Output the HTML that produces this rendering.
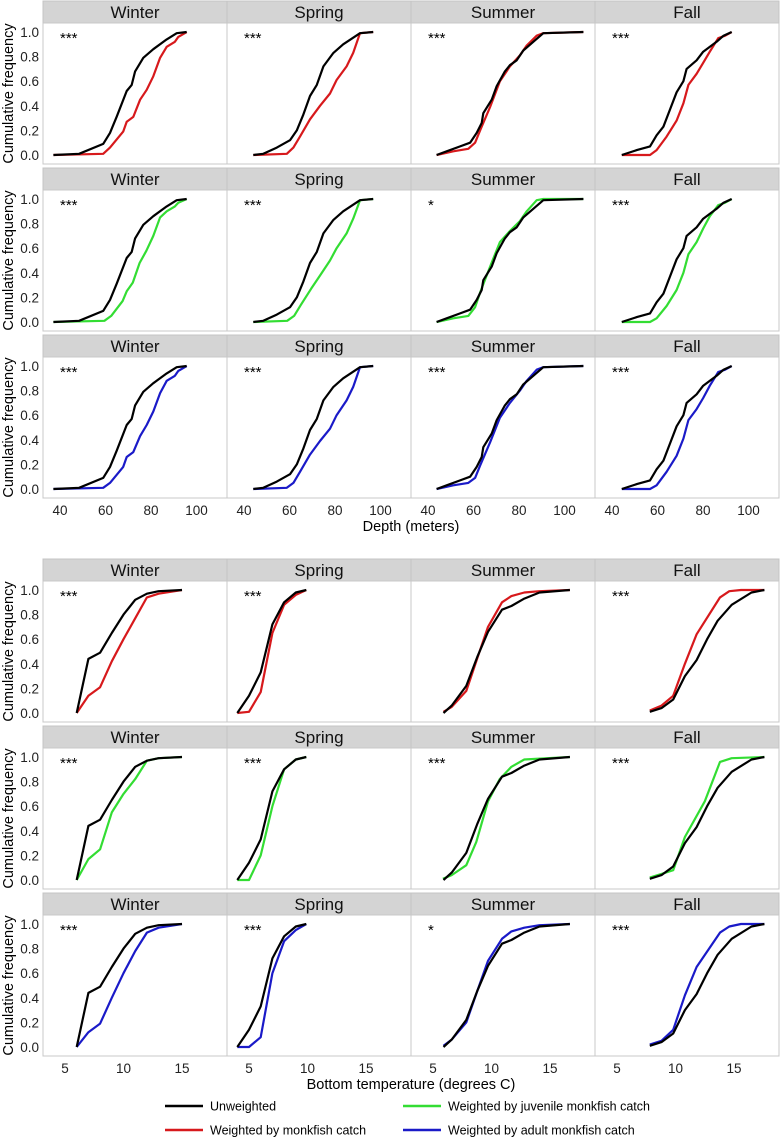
<!DOCTYPE html>
<html><head><meta charset="utf-8">
<style>
html,body{margin:0;padding:0;background:#fff;}
svg{display:block;font-family:"Liberation Sans",sans-serif;}
</style></head>
<body>
<svg id="chart" width="780" height="1137" viewBox="0 0 780 1137"></svg>
<script>
// ---------- data ----------
const seasons = ["Winter","Spring","Summer","Fall"];
const seriesNames = ["Unweighted","Weighted by monkfish catch","Weighted by juvenile monkfish catch","Weighted by adult monkfish catch"];
const seriesColors = ["#000000","#d7191c","#33dd33","#1a1ac8"];
const depthTicks = [40,60,80,100];
const tempTicks = [5,10,15];
const yTicks = [0.0,0.2,0.4,0.6,0.8,1.0];
const depthSig = [["***","***","***","***"],["***","***","*","***"],["***","***","***","***"]];
const tempSig = [["***","***","","***"],["***","***","***","***"],["***","***","*","***"]];

// depth: [x values, cumulative values] per season
const depthBlackX = [[37.1,48.4,59.0,62.0,64.9,69.3,71.5,73.0,76.6,81.0,86.9,91.3,95.7],[44.1,48.5,54.4,60.2,63.2,66.1,69.0,72.0,74.9,79.3,83.6,91.0,96.8],[43.8,48.2,54.1,58.5,61.4,63.6,64.3,68.0,70.2,73.8,76.0,79.0,81.9,86.3,90.7,108.3],[44.3,50.9,56.7,59.6,62.6,65.5,68.4,71.4,72.8,77.2,80.1,86.0,89.0,92.6]];
const depthBlackY = [[0,0.01,0.09,0.18,0.31,0.52,0.57,0.68,0.79,0.86,0.94,0.99,1],[0,0.01,0.06,0.12,0.20,0.33,0.48,0.57,0.72,0.83,0.90,0.99,1],[0,0.03,0.07,0.10,0.18,0.26,0.34,0.45,0.56,0.68,0.73,0.77,0.85,0.92,0.99,1],[0,0.04,0.07,0.16,0.23,0.37,0.51,0.60,0.70,0.77,0.84,0.92,0.97,1]];
const depthAllX = [[37.1,59.0,62.0,67.8,69.3,72.2,75.2,78.1,81.0,84.0,86.9,90.5,92.0,95.7],[44.1,58.8,61.7,64.6,69.0,73.4,77.8,80.7,85.1,88.0,91.0,96.8],[43.8,51.1,57.7,60.7,62.9,67.3,71.6,76.0,80.4,83.4,87.8,90.7,108.3],[44.3,56.7,59.6,64.0,68.4,71.4,73.6,77.2,80.1,83.0,86.7,89.7,92.6]];
const depthAllY = [[0,0.01,0.06,0.19,0.27,0.31,0.45,0.53,0.64,0.79,0.88,0.92,0.96,1],[0,0.01,0.06,0.15,0.29,0.40,0.50,0.61,0.72,0.83,0.99,1],[0,0.03,0.05,0.10,0.20,0.39,0.60,0.72,0.81,0.89,0.97,0.99,1],[0,0,0.04,0.15,0.28,0.42,0.57,0.66,0.75,0.84,0.95,0.97,1]];
const depthJuvX = [[37.1,59.5,62.5,67.5,69.3,72.0,75.0,78.0,81.0,84.0,86.9,90.5,92.0,95.7],[44.1,59.0,62.0,65.0,69.5,73.5,77.8,80.7,85.1,88.0,91.0,96.8],[43.8,51.1,57.7,60.7,62.9,67.3,71.6,76.0,80.4,83.4,87.8,90.7,108.3],[44.3,56.7,59.6,64.0,68.4,71.4,73.6,77.2,80.1,83.0,86.7,89.7,92.6]];
const depthJuvY = [[0,0.01,0.05,0.17,0.25,0.32,0.48,0.58,0.70,0.85,0.90,0.94,0.97,1],[0,0.01,0.05,0.14,0.27,0.38,0.50,0.60,0.72,0.84,0.99,1],[0,0.03,0.05,0.12,0.24,0.45,0.65,0.74,0.82,0.90,0.99,1,1],[0,0,0.03,0.13,0.26,0.40,0.55,0.65,0.76,0.86,0.95,0.97,1]];
const depthAduX = [[37.1,59.0,62.0,67.8,69.3,72.2,75.2,78.1,81.0,84.0,86.9,90.5,92.0,95.7],[44.1,58.8,61.7,64.6,69.0,73.4,77.8,80.7,85.1,88.0,91.0,96.8],[43.8,51.1,57.7,60.7,62.9,67.3,71.6,76.0,80.4,83.4,87.8,90.7,108.3],[44.3,56.7,59.6,64.0,68.4,71.4,73.6,77.2,80.1,83.0,86.7,89.7,92.6]];
const depthAduY = [[0,0.01,0.05,0.18,0.26,0.30,0.43,0.52,0.63,0.78,0.88,0.92,0.96,1],[0,0.01,0.05,0.14,0.28,0.39,0.49,0.60,0.72,0.83,0.99,1],[0,0.03,0.05,0.09,0.19,0.38,0.58,0.70,0.80,0.88,0.97,0.99,1],[0,0,0.03,0.14,0.27,0.41,0.56,0.65,0.74,0.84,0.95,0.97,1]];

// temperature
const tempBlackX = [[6,7,8,9,10,11,12,13,15],[4,5,6,7,8,9,9.9],[5.9,6.6,7.85,8.8,9.7,10.9,11.7,12.8,14.1,16.7],[7.8,8.8,9.8,10.8,11.8,12.7,13.6,14.8,16.5,17.6]];
const tempBlackY = [[0,0.44,0.49,0.65,0.80,0.92,0.97,0.99,1],[0,0.14,0.33,0.72,0.90,0.98,1],[0,0.06,0.22,0.46,0.66,0.84,0.87,0.93,0.98,1],[0.01,0.04,0.11,0.30,0.43,0.60,0.75,0.88,0.98,1]];
const tempAllX = [[6,7,8,9,10,11,12,13,15],[4,5,6,7,8,9,9.9],[5.9,6.6,7.85,8.8,9.7,10.9,11.7,12.8,14.1,16.7],[7.8,8.8,9.8,10.8,11.8,13.8,14.6,15.6,17.6]];
const tempAllY = [[0,0.14,0.21,0.42,0.60,0.77,0.94,0.97,1],[0,0.01,0.17,0.65,0.88,0.96,1],[0.01,0.05,0.18,0.45,0.70,0.90,0.95,0.98,0.99,1],[0.02,0.06,0.14,0.40,0.64,0.94,0.99,1,1]];
const tempJuvX = [[6,7,8,9,10,11,12,13,15],[4,5,6,7,8,9,9.9],[5.85,6.6,7.85,8.7,9.7,10.7,11.7,12.8,16.7],[7.8,8.8,9.8,10.8,12.5,13.8,14.8,17.6]];
const tempJuvY = [[0,0.17,0.25,0.55,0.70,0.82,0.97,0.99,1],[0,0,0.20,0.60,0.90,0.98,1],[0.01,0.04,0.12,0.31,0.64,0.82,0.92,0.98,1],[0.02,0.05,0.08,0.35,0.64,0.96,0.99,1]];
const tempAduX = [[6,7,8,9,10,11,12,13,15],[4,5,6,7,8,9,9.9],[5.9,6.6,7.85,8.8,9.7,10.9,11.7,12.8,14.1,16.7],[7.8,8.8,9.8,10.8,11.8,13.8,14.6,15.6,17.6]];
const tempAduY = [[0,0.12,0.19,0.40,0.60,0.78,0.93,0.97,1],[0,0,0.08,0.60,0.86,0.95,1],[0.01,0.06,0.2,0.46,0.70,0.88,0.94,0.97,0.99,1],[0.02,0.05,0.14,0.42,0.65,0.93,0.98,1,1]];

// ---------- drawing ----------
const NS = "http://www.w3.org/2000/svg";
const svg = document.getElementById("chart");
function mk(tag, attrs, parent){
  const e = document.createElementNS(NS, tag);
  for (const k in attrs) e.setAttribute(k, attrs[k]);
  (parent||svg).appendChild(e);
  return e;
}
const colLeft = [43,227,411,595];
const panelW = 184;
const rowStep = 167;

function drawBlock(cfg){
  for (let r=0;r<3;r++){
    const stripTop = cfg.top + r*rowStep;
    const pTop = stripTop + 22;
    const pBot = pTop + 141;
    const y1 = pTop + 9, y0 = pBot - 9;
    const yScale = v => y0 - v*(y0-y1);
    const yt = mk("text",{x:0,y:0,"font-size":"14.5",fill:"#000","text-anchor":"middle",transform:`translate(13,${(pTop+pBot)/2}) rotate(-90)`});
    
    
    yt.textContent = "Cumulative frequency";
    yTicks.forEach(v=>{
      const t = mk("text",{x:39,y:yScale(v)+5,"font-size":"13.5",fill:"#222","text-anchor":"end"});
      
      
      t.textContent = v.toFixed(1);
    });
    for (let c=0;c<4;c++){
      const L = colLeft[c];
      const xScale = v => L + cfg.x0off + (v - cfg.xRef)*cfg.pxPer;
      const g = mk("g",{});
      
      
      const s = mk("rect",{x:L,y:stripTop,width:panelW,height:22,fill:"#d4d4d4",stroke:"#c4c4c4","stroke-width":1},g);
      
      
      const st = mk("text",{x:L+panelW/2,y:stripTop+17,"font-size":"17",fill:"#111","text-anchor":"middle"},g);
      
      
      st.textContent = seasons[c];
      mk("rect",{x:L,y:pTop,width:panelW,height:pBot-pTop,fill:"#fff",stroke:"#c8c8c8","stroke-width":1},g);
      const clipId = cfg.name+"clip"+r+c;
      const cp = mk("clipPath",{id:clipId},g);
      mk("rect",{x:L,y:pTop,width:panelW,height:pBot-pTop},cp);
      const sig = cfg.sig[r][c];
      if (sig){
        const sg = mk("text",{x:L+17,y:pTop+20,"font-size":"15",fill:"#000"},g);
        
        
        sg.textContent = sig;
      }
      const wX = cfg.weighted[r][0][c], wY = cfg.weighted[r][1][c];
      const bX = cfg.blackX[c], bY = cfg.blackY[c];
      const toPts = (xs,ys)=>xs.map((v,i)=>xScale(v).toFixed(1)+","+yScale(ys[i]).toFixed(1)).join(" ");
      const wl = mk("polyline",{points:toPts(wX,wY),fill:"none",stroke:seriesColors[r+1],"stroke-width":2.2,"stroke-linejoin":"round","clip-path":`url(#${clipId})`},g);
      
      
      const bl = mk("polyline",{points:toPts(bX,bY),fill:"none",stroke:seriesColors[0],"stroke-width":2.2,"stroke-linejoin":"round","clip-path":`url(#${clipId})`},g);
      
      
      if (r===2){
        cfg.ticks.forEach(v=>{
          const tx = mk("text",{x:xScale(v),y:pBot+17,"font-size":"13.5",fill:"#222","text-anchor":"middle"});
          
          
          tx.textContent = v;
        });
      }
    }
  }
  const xt = mk("text",{x:411,y:cfg.top+2*rowStep+22+141+33,"font-size":"14.5",fill:"#000","text-anchor":"middle"});
  
  
  xt.textContent = cfg.title;
}

drawBlock({name:"depth",top:1,x0off:17,xRef:40,pxPer:2.275,ticks:depthTicks,sig:depthSig,
  blackX:depthBlackX,blackY:depthBlackY,
  weighted:[[depthAllX,depthAllY],[depthJuvX,depthJuvY],[depthAduX,depthAduY]],title:"Depth (meters)"});
drawBlock({name:"temp",top:559,x0off:22,xRef:5,pxPer:11.7,ticks:tempTicks,sig:tempSig,
  blackX:tempBlackX,blackY:tempBlackY,
  weighted:[[tempAllX,tempAllY],[tempJuvX,tempJuvY],[tempAduX,tempAduY]],title:"Bottom temperature (degrees C)"});

// legend
const legPos = [[165,1106],[165,1130],[403,1106],[403,1130]];
seriesNames.forEach((n,i)=>{
  const g = mk("g",{});
  
  
  const [lx,ly] = legPos[i];
  mk("line",{x1:lx,x2:lx+38,y1:ly,y2:ly,stroke:seriesColors[i],"stroke-width":2.5},g);
  const t = mk("text",{x:lx+45,y:ly+4.5,"font-size":"12.5",fill:"#000"},g);
  t.textContent = n;
});
</script>
</body></html>
